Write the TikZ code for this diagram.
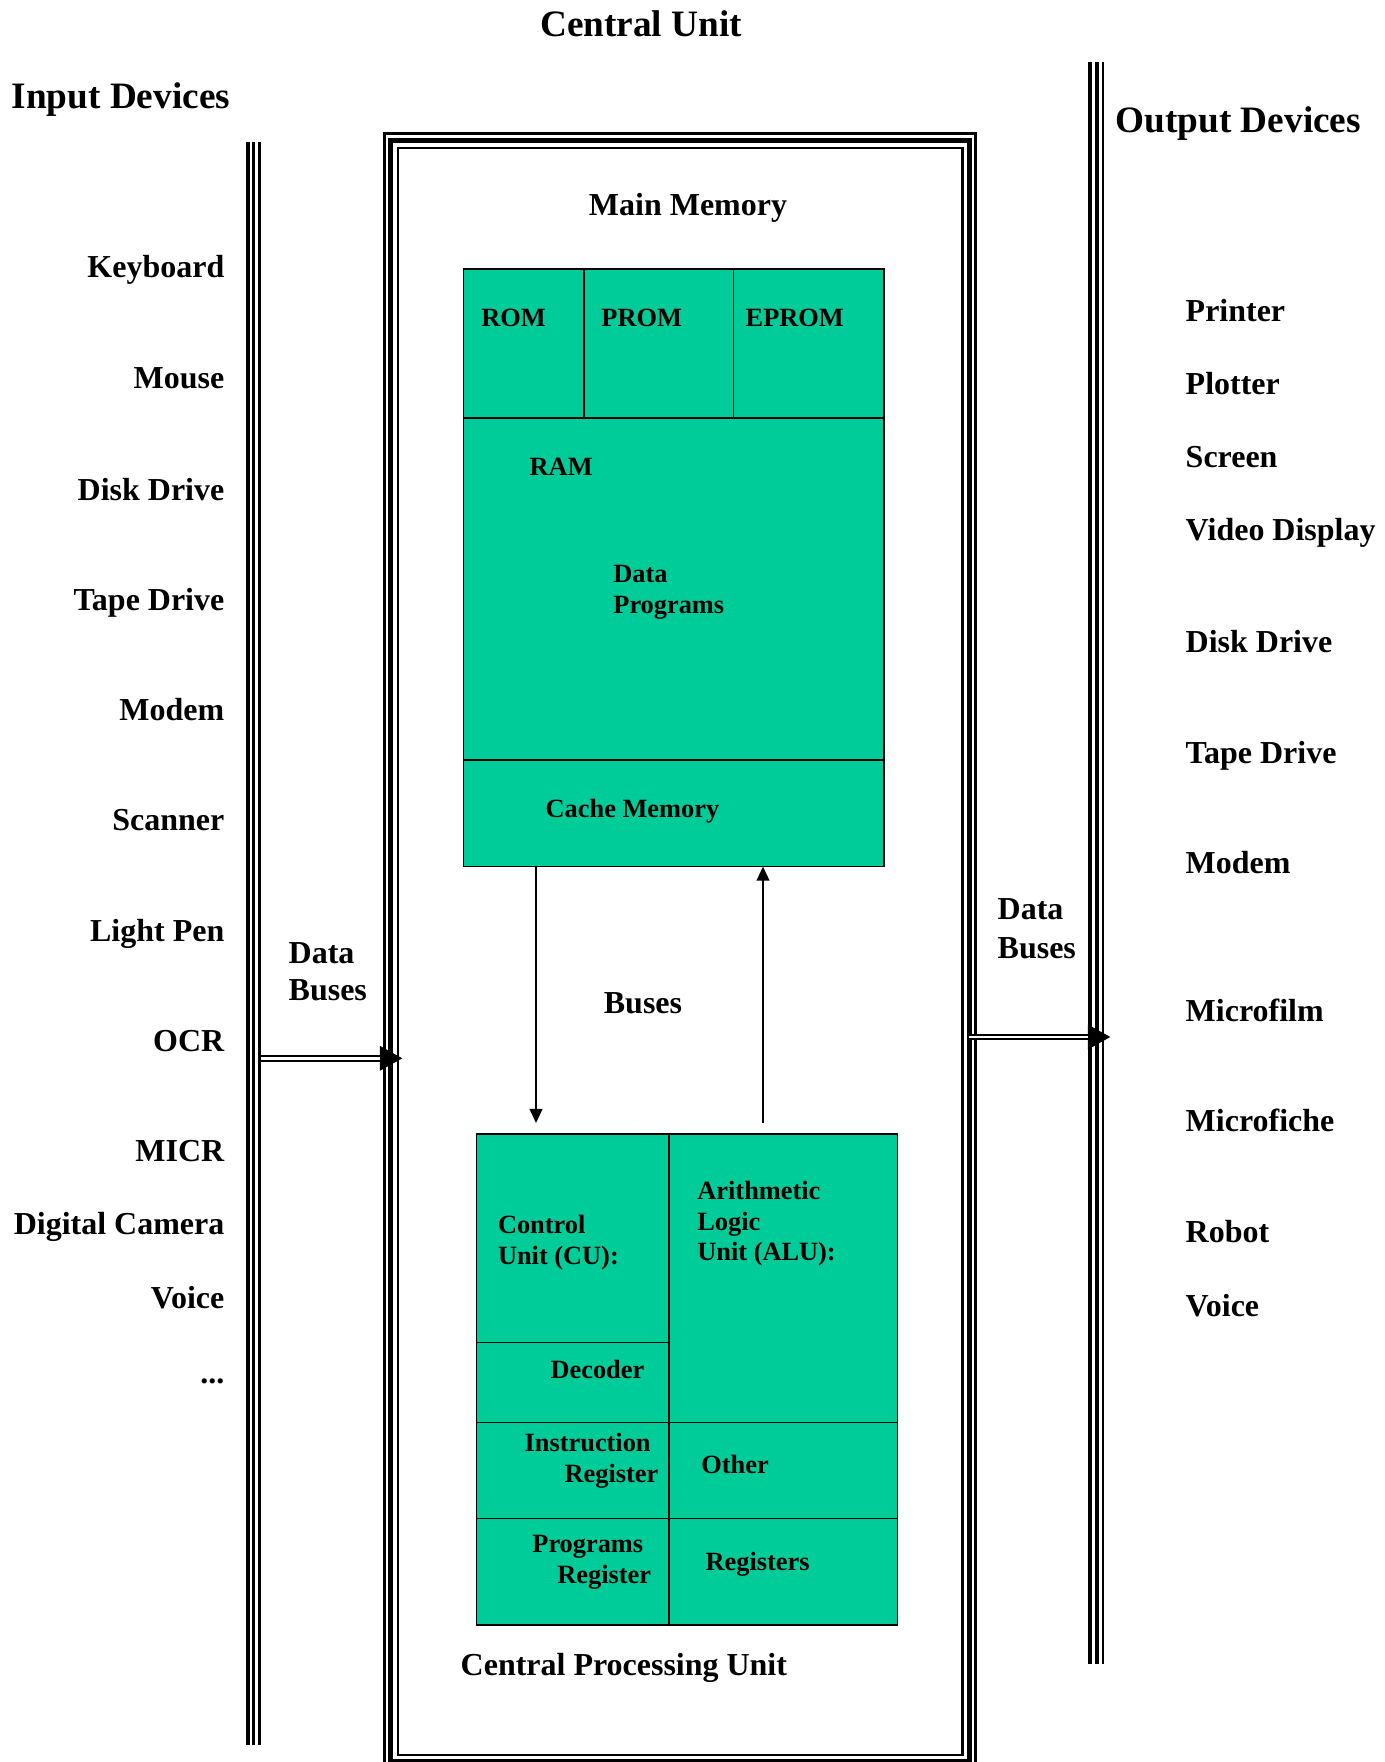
\documentclass[tikz,border=0pt]{standalone}
\usepackage{fontspec}
\setmainfont{Liberation Serif}
\usepackage{tikz}
\usetikzlibrary{arrows.meta}
\usetikzlibrary{calc}

\definecolor{cellgreen}{RGB}{0,204,153}

\tikzset{
  every node/.style={inner sep=0pt},
  title/.style={font=\bfseries\fontsize{10.6}{12.7}\selectfont},
  device/.style={font=\bfseries\fontsize{9.1}{10.9}\selectfont},
  cell/.style={font=\bfseries\fontsize{7.5}{9}\selectfont},
  cellbox/.style={draw, fill=cellgreen, line width=0.35pt},
  cellline/.style={line width=0.35pt},
  bus/.style={line width=0.55pt, -{Triangle[length=4pt,width=3.6pt]}},
  databus/.style={line width=1.9pt, -{Triangle[length=6.5pt,width=6.6pt]}},
  busgap/.style={white, line width=0.75pt, shorten >=6.5pt}
}

\begin{document}
\begin{tikzpicture}[x=0.1mm, y=-0.1mm]

  \useasboundingbox (0,0) rectangle (1384,1762);

  % Titles
  \node[title, anchor=base] (CUtitle) at (641,37) {Central Unit};
  \node[title, anchor=base west] (INtitle) at (11,108) {Input Devices};
  \node[title, anchor=base west] (OUTtitle) at (1115,132) {Output Devices};

  % Central unit frame: thin, thick, thin
  \draw[line width=0.75pt] (384.7,133.6) rectangle (975.4,1767);
  \draw[line width=1.42pt] (390.5,140.5) rectangle (969.5,1761);
  \draw[line width=0.7pt] (397.8,147.8) rectangle (962.7,1755);

  % Input bus
  \draw[line width=1.22pt] (247.8,142) -- (247.8,1745);
  \draw[line width=0.77pt] (253.7,142) -- (253.7,1745);
  \draw[line width=0.77pt] (259.7,142) -- (259.7,1745);

  % Output bus
  \draw[line width=1.1pt] (1090.2,62) -- (1090.2,1664);
  \draw[line width=1.1pt] (1097,62) -- (1097,1664);
  \draw[line width=0.7pt] (1102.8,62) -- (1102.8,1664);

  % Input devices
  \foreach \dev/\y [count=\i] in {Keyboard/277, Mouse/388, Disk Drive/500,
      Tape Drive/610, Modem/720, Scanner/830, Light Pen/941, OCR/1051,
      MICR/1161, Digital Camera/1234, Voice/1308}
    \node[device, anchor=base east] (in\i) at (225,\y) {\dev};
  \node[device, anchor=base east] (in12) at (225,1383) {...};

  % Output devices
  \foreach \dev/\y [count=\i] in {Printer/321, Plotter/394, Screen/467,
      Video Display/540, Disk Drive/652, Tape Drive/763, Modem/873,
      Microfilm/1021, Microfiche/1131, Robot/1242, Voice/1316}
    \node[device, anchor=base west] (out\i) at (1185,\y) {\dev};

  % Data buses
  \node[device, anchor=base west] (dataL1) at (288,963) {Data};
  \node[device, anchor=base west] (dataL2) at (288,1000) {Buses};
  \node[device, anchor=base west] (dataR1) at (997,919) {Data};
  \node[device, anchor=base west] (dataR2) at (997,958) {Buses};

  \coordinate (inbus) at (261,1058.3);
  \coordinate (cuin) at (402.7,1058.3);
  \draw[databus] (inbus) -- (cuin);
  \draw[busgap] (inbus) -- (cuin);

  \coordinate (cuout) at (969,1037);
  \coordinate (outbus) at (1110.7,1037);
  \draw[databus] (cuout) -- (outbus);
  \draw[busgap] (cuout) -- (outbus);

  % Main memory
  \node[device, anchor=base] (MMtitle) at (688,215) {Main Memory};

  \coordinate (memNW) at (463.3,269);
  \coordinate (memSE) at (884,866.6);
  \draw[cellbox] (memNW) rectangle (memSE);
  \draw[cellline] (463.3,418) -- (884,418);
  \draw[cellline] (584,269) -- (584,418);
  \draw[cellline] (733.3,269) -- (733.3,418);
  \draw[cellline] (463.3,760) -- (884,760);

  \node[cell, anchor=base west] (rom) at (480.7,326) {ROM};
  \node[cell, anchor=base west] (prom) at (600.7,326) {PROM};
  \node[cell, anchor=base west] (eprom) at (745,326) {EPROM};
  \node[cell, anchor=base west] (ram) at (529,475) {RAM};
  \node[cell, anchor=base west] (data) at (612.7,582) {Data};
  \node[cell, anchor=base west] (progs) at (612.7,613.6) {Programs};
  \node[cell, anchor=base west] (cache) at (545,817) {Cache Memory};

  % Buses between memory and CPU
  \coordinate (memout) at (536,866.6);
  \coordinate (cpuin) at (536,1123);
  \coordinate (cpuout) at (763,1123);
  \coordinate (memin) at (763,866.6);
  \draw[bus] (memout) -- (cpuin);
  \draw[bus] (cpuout) -- (memin);
  \node[device, anchor=base] (buses) at (643,1013) {Buses};

  % Central processing unit
  \coordinate (cpuNW) at (476.7,1134);
  \coordinate (cpuSE) at (897.7,1625);
  \draw[cellbox] (cpuNW) rectangle (cpuSE);
  \draw[cellline] (669,1134) -- (669,1625);
  \draw[cellline] (476.7,1342.3) -- (669,1342.3);
  \draw[cellline] (476.7,1422.3) -- (897.7,1422.3);
  \draw[cellline] (476.7,1518.3) -- (897.7,1518.3);

  \node[cell, anchor=base west] (cu1) at (497.3,1233.3) {Control};
  \node[cell, anchor=base west] (cu2) at (497.3,1264) {Unit (CU):};
  \node[cell, anchor=base west] (alu1) at (696.7,1199) {Arithmetic};
  \node[cell, anchor=base west] (alu2) at (696.7,1230) {Logic};
  \node[cell, anchor=base west] (alu3) at (696.7,1260.7) {Unit (ALU):};
  \node[cell, anchor=base east] (dec) at (645,1378.3) {Decoder};
  \node[cell, anchor=base west] (ir1) at (524,1451.7) {Instruction};
  \node[cell, anchor=base west] (ir2) at (564,1482.3) {Register};
  \node[cell, anchor=base west] (other) at (700.7,1473.3) {Other};
  \node[cell, anchor=base west] (pr1) at (531.7,1552.3) {Programs};
  \node[cell, anchor=base west] (pr2) at (556.7,1583.3) {Register};
  \node[cell, anchor=base west] (regs) at (705,1570) {Registers};

  \node[device, anchor=base west] (CPUtitle) at (460,1675) {Central Processing Unit};

\end{tikzpicture}
\end{document}
